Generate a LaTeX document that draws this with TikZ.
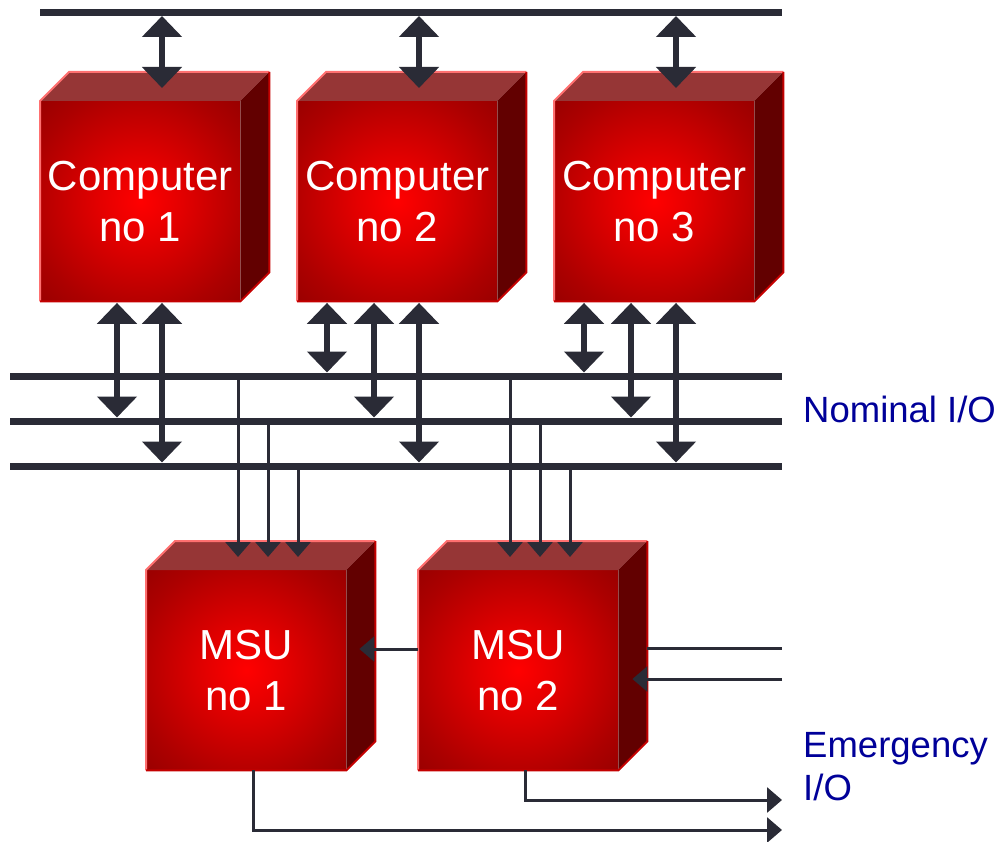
\documentclass[tikz,border=0pt]{standalone}
\usepackage{fontspec}
\setmainfont{Liberation Sans}
\usetikzlibrary{arrows.meta,calc}

\definecolor{wire}{RGB}{42,43,54}
\definecolor{facetop}{RGB}{150,54,54}
\definecolor{faceside}{RGB}{98,0,0}
\definecolor{rimlight}{RGB}{255,112,112}
\definecolor{rimdark}{RGB}{196,0,0}
\definecolor{labelblue}{RGB}{0,0,153}
\definecolor{glowA}{RGB}{255,0,0}
\definecolor{glowB}{RGB}{228,0,0}
\definecolor{glowC}{RGB}{172,0,0}
\definecolor{glowD}{RGB}{132,0,0}
\definecolor{glowE}{RGB}{118,0,0}

% glowing front face of a block
\pgfdeclareradialshading{boxglow}{\pgfpointorigin}{%
  color(0bp)=(glowA); color(10bp)=(glowB); color(28bp)=(glowC);
  color(44bp)=(glowD); color(50bp)=(glowE); color(72bp)=(glowE)}

\tikzset{
  front/.style={shade, shading=boxglow, minimum width=200pt, minimum height=200pt,
    inner sep=0pt, text=white, align=center,
    font=\fontsize{42}{51}\selectfont, anchor=north west},
  bus/.style={wire, line width=7pt},
  dualarrow/.style={wire, line width=6pt,
    {Triangle[width=39pt,length=21pt]}-{Triangle[width=39pt,length=21pt]}},
  feed/.style={wire, line width=3pt, -{Triangle[width=25pt,length=15pt]}},
  plainwire/.style={wire, line width=3pt},
  iolabel/.style={labelblue, font=\fontsize{36.5}{43}\selectfont,
    anchor=base west, inner sep=0pt},
}

% a bevelled block: name, left, top, text
\newcommand{\redcube}[4]{%
  \node[front] (#1) at (#2,#3) {#4};
  \fill[facetop] (#1.north west) -- ++(29,-29)
     -- ([shift={(29,-29)}]#1.north east) -- (#1.north east) -- cycle;
  \fill[faceside] (#1.north east) -- ([shift={(29,-29)}]#1.north east)
     -- ([shift={(29,-29)}]#1.south east) -- (#1.south east) -- cycle;
  \draw[rimlight, line width=2pt] (#1.south west) -- (#1.north west)
     -- ++(29,-29) -- ([shift={(29,-29)}]#1.north east);
  \draw[rimdark, line width=2pt] ([shift={(29,-29)}]#1.north east)
     -- ([shift={(29,-29)}]#1.south east) -- (#1.south east) -- (#1.south west);
}

% two-way link from the bottom of a computer down to a bus
\newcommand{\linkdown}[3]{%
  \coordinate (lk) at ([xshift=#2pt,yshift=-1.5pt]#1.south west);
  \draw[dualarrow, shorten >=3.5pt] (lk) -- (lk |- #3);
}

% feed from a bus into the top of a storage unit
\newcommand{\feedfrom}[3]{%
  \coordinate (fd) at ([xshift=#2pt,yshift=13pt]#1.north west);
  \draw[feed] (fd |- #3) -- (fd);
}

\begin{document}
\begin{tikzpicture}[x=1pt,y=-1pt]
\useasboundingbox[fill=white] (0,0) rectangle (1000,842);

% blocks
\redcube{c1}{40}{101}{Computer\\no 1}
\redcube{c2}{297}{101}{Computer\\no 2}
\redcube{c3}{554}{101}{Computer\\no 3}
\redcube{m1}{146}{570}{MSU\\no 1}
\redcube{m2}{418}{570}{MSU\\no 2}

% buses
\coordinate (b0w) at (40,13);  \coordinate (b0e) at (782,13);
\coordinate (b1w) at (10,376); \coordinate (b1e) at (782,376);
\coordinate (b2w) at (10,421); \coordinate (b2e) at (782,421);
\coordinate (b3w) at (10,466); \coordinate (b3e) at (782,466);
\draw[bus] (b0w) -- (b0e);
\draw[bus] (b1w) -- (b1e);
\draw[bus] (b2w) -- (b2e);
\draw[bus] (b3w) -- (b3e);

% top bus links
\foreach \c in {c1,c2,c3}{
  \coordinate (tp) at ([xshift=122pt,yshift=13pt]\c.north west);
  \draw[dualarrow, shorten <=3pt] (tp |- b0w) -- (tp);
}

% nominal I/O links
\linkdown{c1}{77}{b2w}
\linkdown{c1}{122}{b3w}
\foreach \c in {c2,c3}{
  \linkdown{\c}{30}{b1w}
  \linkdown{\c}{77}{b2w}
  \linkdown{\c}{122}{b3w}
}

% bus feeds into the storage units
\foreach \m in {m1,m2}{
  \feedfrom{\m}{92}{b1w}
  \feedfrom{\m}{122}{b2w}
  \feedfrom{\m}{152}{b3w}
}

% MSU no 2 to MSU no 1
\draw[feed] ([yshift=-79pt]m2.north west) -- ([xshift=13pt,yshift=-79pt]m1.north east);

% emergency I/O
\coordinate (e1) at (782,648);
\coordinate (e2) at (782,679);
\coordinate (o1) at (782,830);
\coordinate (o2) at (782,800);
\draw[plainwire] ([xshift=29pt,yshift=-78pt]m2.north east) -- (e1);
\draw[feed] (e2) -- ([xshift=14pt,yshift=-109pt]m2.north east);
\draw[feed] ([xshift=107pt]m1.south west) |- (o1);
\draw[feed] ([xshift=107pt]m2.south west) |- (o2);

% labels
\node[iolabel] (nom) at (803,422) {Nominal I/O};
\node[iolabel] (emg) at (803,757) {Emergency};
\node[iolabel] (emgio) at (803,800) {I/O};
\end{tikzpicture}
\end{document}
